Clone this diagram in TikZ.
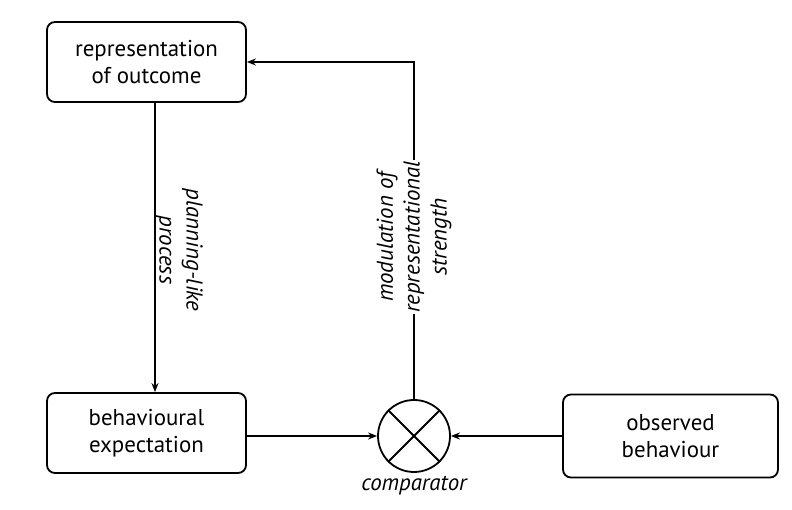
\documentclass[tikz,border=0pt]{standalone}
\usepackage{fontspec}
\setmainfont{PT Sans}
\usetikzlibrary{arrows.meta}

\begin{document}
\begin{tikzpicture}[x=1bp,y=1bp,line width=1.8bp,>={Stealth[length=9bp,width=7bp]}]
\useasboundingbox (0,0) rectangle (792,510);
\tikzstyle{every node}=[font=\fontsize{23}{27}\selectfont, align=center]
\tikzstyle{box}=[draw, rounded corners=8bp, minimum width=199bp, minimum height=80bp]
\tikzstyle{lab}=[font=\fontsize{23}{27}\selectfont\itshape, inner sep=1bp]
\draw (146.5,448) node (outcome) [box] {representation\\of outcome};
\draw (146.5,77) node (expect) [box] {behavioural\\expectation};
\draw (670.5,74) node (observed) [box, minimum width=215bp, minimum height=83bp] {observed\\behaviour};
\draw (414,74) node (comp) [draw, circle, minimum size=72bp, inner sep=0pt] {};
\draw (comp.45) -- (comp.225);
\draw (comp.135) -- (comp.-45);
\draw (comp.south) node (comptext) [lab, below=1bp] {comparator};
\draw [->] (outcome.south -| 155,0) -- (155,0 |- expect.north);
\draw [->] (expect.east |- comp.west) -- (comp.west);
\draw [->] (observed.west |- comp.east) -- (comp.east);
\draw [->] (comp.north) |- (outcome.east);
\draw (179,260) node (plan) [lab, rotate=-90] {planning-like\\process};
\draw (414,273) node (modul) [lab, rotate=90, fill=white] {modulation of\\representational\\strength};
\end{tikzpicture}
\end{document}
